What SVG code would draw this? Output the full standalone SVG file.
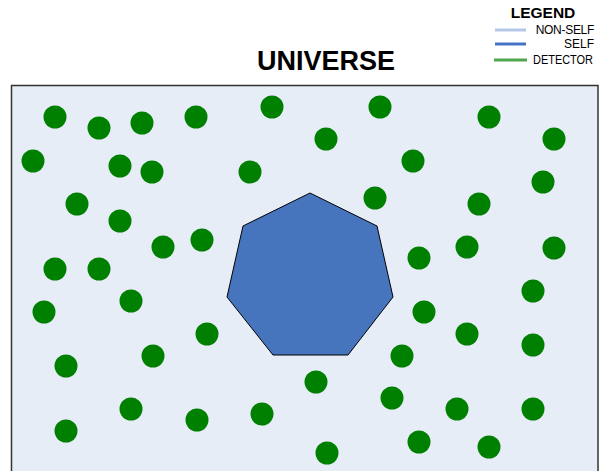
<svg xmlns="http://www.w3.org/2000/svg" width="602" height="471" viewBox="0 0 602 471">
<style>
.det{fill:#008000}
.t{font-family:"Liberation Sans",Arial,sans-serif;fill:#000}
.lg{font-size:12px}
</style>
<rect width="602" height="471" fill="#ffffff"/>
<g id="legend">
<text class="t" x="543" y="18" font-size="15.5" font-weight="bold" text-anchor="middle">LEGEND</text>
<line x1="495" y1="30" x2="526" y2="30" stroke="#b4c7e7" stroke-width="3"/>
<text class="t lg" x="594" y="34" text-anchor="end" letter-spacing="-0.3">NON-SELF</text>
<line x1="495" y1="44" x2="526" y2="44" stroke="#4472c4" stroke-width="3"/>
<text class="t lg" x="594" y="48" text-anchor="end">SELF</text>
<line x1="494" y1="60" x2="527" y2="60" stroke="#4ea64e" stroke-width="3"/>
<text class="t lg" x="533" y="64" textLength="60" lengthAdjust="spacingAndGlyphs">DETECTOR</text>
</g>
<g id="title">
<text class="t" x="326" y="70" font-size="27" font-weight="bold" text-anchor="middle">UNIVERSE</text>
</g>
<g id="universe">
<rect x="11.5" y="85.5" width="586.5" height="400" fill="#e7edf7" stroke="#333333" stroke-width="1.5"/>
</g>
<g id="self">
<polygon points="310,193 377,226 393,297 348,355 273,355 227,297 243,226" fill="#4675be" stroke="#000000" stroke-width="1"/>
</g>
<g id="detectors">
<circle class="det" cx="55" cy="117" r="11.5"/>
<circle class="det" cx="99" cy="128" r="11.5"/>
<circle class="det" cx="142" cy="123" r="11.5"/>
<circle class="det" cx="196" cy="117" r="11.5"/>
<circle class="det" cx="272" cy="107" r="11.5"/>
<circle class="det" cx="380" cy="107" r="11.5"/>
<circle class="det" cx="489" cy="117" r="11.5"/>
<circle class="det" cx="554" cy="139" r="11.5"/>
<circle class="det" cx="326" cy="139" r="11.5"/>
<circle class="det" cx="33" cy="161" r="11.5"/>
<circle class="det" cx="120" cy="166" r="11.5"/>
<circle class="det" cx="152" cy="172" r="11.5"/>
<circle class="det" cx="250" cy="172" r="11.5"/>
<circle class="det" cx="413" cy="161" r="11.5"/>
<circle class="det" cx="543" cy="182" r="11.5"/>
<circle class="det" cx="77" cy="204" r="11.5"/>
<circle class="det" cx="120" cy="221" r="11.5"/>
<circle class="det" cx="375" cy="198" r="11.5"/>
<circle class="det" cx="479" cy="204" r="11.5"/>
<circle class="det" cx="163" cy="247" r="11.5"/>
<circle class="det" cx="202" cy="240" r="11.5"/>
<circle class="det" cx="467" cy="247" r="11.5"/>
<circle class="det" cx="554" cy="248" r="11.5"/>
<circle class="det" cx="419" cy="258" r="11.5"/>
<circle class="det" cx="55" cy="269" r="11.5"/>
<circle class="det" cx="99" cy="269" r="11.5"/>
<circle class="det" cx="533" cy="291" r="11.5"/>
<circle class="det" cx="131" cy="301" r="11.5"/>
<circle class="det" cx="44" cy="312" r="11.5"/>
<circle class="det" cx="424" cy="312" r="11.5"/>
<circle class="det" cx="207" cy="334" r="11.5"/>
<circle class="det" cx="467" cy="334" r="11.5"/>
<circle class="det" cx="533" cy="345" r="11.5"/>
<circle class="det" cx="153" cy="356" r="11.5"/>
<circle class="det" cx="66" cy="366" r="11.5"/>
<circle class="det" cx="402" cy="356" r="11.5"/>
<circle class="det" cx="316" cy="382" r="11.5"/>
<circle class="det" cx="392" cy="398" r="11.5"/>
<circle class="det" cx="131" cy="409" r="11.5"/>
<circle class="det" cx="197" cy="420" r="11.5"/>
<circle class="det" cx="262" cy="414" r="11.5"/>
<circle class="det" cx="457" cy="409" r="11.5"/>
<circle class="det" cx="533" cy="409" r="11.5"/>
<circle class="det" cx="66" cy="431" r="11.5"/>
<circle class="det" cx="327" cy="453" r="11.5"/>
<circle class="det" cx="419" cy="442" r="11.5"/>
<circle class="det" cx="489" cy="447" r="11.5"/>
</g>
</svg>
